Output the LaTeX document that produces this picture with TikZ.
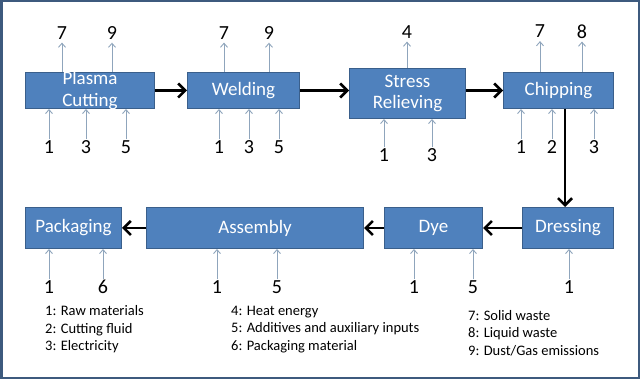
\documentclass[tikz,border=0pt]{standalone}
\usepackage{fontspec}
\setmainfont{Carlito}
\usetikzlibrary{arrows.meta}
\definecolor{boxfill}{HTML}{4F81BD}
\definecolor{boxline}{HTML}{3A5F8B}
\definecolor{thinarr}{HTML}{8FA5BC}
\definecolor{framecol}{HTML}{3D5A7E}
\begin{document}
\begin{tikzpicture}[x=1pt,y=-1pt,
  proc/.style={draw=boxline, fill=boxfill, line width=1pt, inner sep=0pt, anchor=north west},
  proctext/.style={text=white, font=\fontsize{19}{21.5}\selectfont, align=center, inner sep=0pt},
  num/.style={font=\fontsize{20}{22}\selectfont, inner sep=1pt},
  inarr/.style={draw=thinarr, line width=0.9pt, -{Straight Barb[length=4pt,width=7pt]}},
  outarr/.style={inarr, shorten >=2pt},
  flow/.style={draw=black, line width=2.6pt, -{Straight Barb[length=7pt,width=14pt]}},
  legend/.style={font=\fontsize{14.5}{17.5}\selectfont, align=left, inner sep=0pt, anchor=west}]
\useasboundingbox (0,0) rectangle (640,379);
\fill[white] (0,0) rectangle (640,379);
\draw[framecol, line width=2.5pt] (1.25,1.25) rectangle (638.75,377.75);

% process boxes
\node[proc, minimum width=129pt, minimum height=36pt, label={[proctext]center:Plasma\\Cutting}] (pc) at (25,72) {};
\node[proc, minimum width=112pt, minimum height=36pt, label={[proctext]center:Welding}] (we) at (187,72) {};
\node[proc, minimum width=116pt, minimum height=50pt, label={[proctext]center:Stress\\Relieving}] (sr) at (349,68) {};
\node[proc, minimum width=110pt, minimum height=36pt, label={[proctext]center:Chipping}] (ch) at (503,72) {};
\node[proc, minimum width=91pt, minimum height=41pt, label={[proctext]center:Dressing}] (dr) at (522,207) {};
\node[proc, minimum width=98pt, minimum height=41pt, label={[proctext]center:Dye}] (dy) at (384,207) {};
\node[proc, minimum width=217pt, minimum height=41pt, label={[proctext]center:Assembly}] (as) at (146,207) {};
\node[proc, minimum width=96pt, minimum height=41pt, label={[proctext]center:Packaging}] (pk) at (25,207) {};

% main flow
\draw[flow] (pc.east) -- (we.west);
\draw[flow] (we.east) -- (sr.west |- we.east);
\draw[flow] (sr.east |- ch.west) -- (ch.west);
\coordinate (cd) at (565,0);
\draw[flow] (ch.south -| cd) -- (dr.north -| cd);
\draw[flow] (dr.west) -- (dy.east);
\draw[flow] (dy.west) -- (as.east);
\draw[flow] (as.west) -- (pk.east);

% outputs (top)
\foreach \nm/\x/\t in {a/62/7, b/112/9} {
  \node[num] (pco\nm) at (\x,33) {\t};
  \draw[outarr] (pco\nm |- pc.north) -- (pco\nm.south);
}
\foreach \nm/\x/\t in {a/224/7, b/269/9} {
  \node[num] (weo\nm) at (\x,33) {\t};
  \draw[outarr] (weo\nm |- we.north) -- (weo\nm.south);
}
\node[num] (sroa) at (407,32) {4};
\draw[outarr] (sroa |- sr.north) -- (sroa.south);
\foreach \nm/\x/\t in {a/540/7, b/582/8} {
  \node[num] (cho\nm) at (\x,31.5) {\t};
  \draw[outarr] (cho\nm |- ch.north) -- (cho\nm.south);
}

% inputs (bottom)
\foreach \nm/\x/\t in {a/49/1, b/86/3, c/126/5} {
  \node[num] (pci\nm) at (\x,147) {\t};
  \draw[inarr] (pci\nm.north) -- (pci\nm.north |- pc.south);
}
\foreach \nm/\x/\t in {a/219/1, b/249/3, c/279/5} {
  \node[num] (wei\nm) at (\x,147) {\t};
  \draw[inarr] (wei\nm.north) -- (wei\nm.north |- we.south);
}
\foreach \nm/\x/\t in {a/384/1, b/432/3} {
  \node[num] (sri\nm) at (\x,155) {\t};
  \draw[inarr] (sri\nm.north) -- (sri\nm.north |- sr.south);
}
\foreach \nm/\x/\t in {a/521/1, b/552/2, c/594/3} {
  \node[num] (chi\nm) at (\x,147) {\t};
  \draw[inarr] (chi\nm.north) -- (chi\nm.north |- ch.south);
}
\node[num] (dria) at (569,287) {1};
\draw[inarr] (dria.north) -- (dria.north |- dr.south);
\foreach \nm/\x/\t in {a/414/1, b/473/5} {
  \node[num] (dyi\nm) at (\x,287) {\t};
  \draw[inarr] (dyi\nm.north) -- (dyi\nm.north |- dy.south);
}
\foreach \nm/\x/\t in {a/217/1, b/277/5} {
  \node[num] (asi\nm) at (\x,287) {\t};
  \draw[inarr] (asi\nm.north) -- (asi\nm.north |- as.south);
}
\foreach \nm/\x/\t in {a/49/1, b/103/6} {
  \node[num] (pki\nm) at (\x,287) {\t};
  \draw[inarr] (pki\nm.north) -- (pki\nm.north |- pk.south);
}

% legend
\node[legend] (lg1) at (45,329.5) {1: Raw materials\\2: Cutting fluid\\3: Electricity};
\node[legend] (lg2) at (231,329.5) {4: Heat energy\\5: Additives and auxiliary inputs\\6: Packaging material};
\node[legend] (lg3) at (468,333) {7: Solid waste\\8: Liquid waste\\9: Dust/Gas emissions};
\end{tikzpicture}
\end{document}
